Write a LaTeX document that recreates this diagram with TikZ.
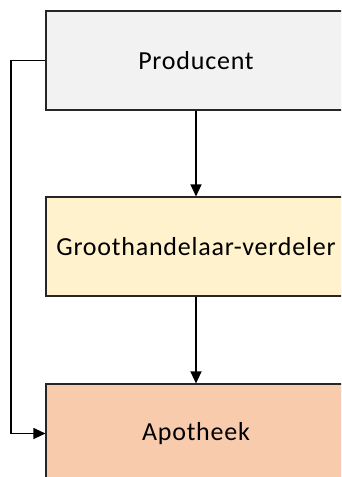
\documentclass[tikz,border=0pt]{standalone}
\usepackage{fontspec}
\setmainfont[LetterSpace=3]{Carlito}
\usetikzlibrary{arrows.meta}
\definecolor{prodfill}{HTML}{F2F2F2}
\definecolor{groofill}{HTML}{FFF2CC}
\definecolor{apofill}{HTML}{F8CBAD}
\definecolor{edge}{HTML}{262626}
\tikzset{
  stage/.style={draw=edge, line width=1.1pt, rectangle, minimum width=300pt,
    minimum height=99pt, inner sep=0pt, font=\fontsize{26}{31}\selectfont},
  flow/.style={draw=black, line width=1.1pt, -{Triangle[length=12pt,width=11pt]}}
}
\begin{document}
\begin{tikzpicture}[x=1pt,y=-1pt]
  \useasboundingbox (0,0) rectangle (341,477);
  \clip (0,0) rectangle (341,477);
  \node[stage, fill=prodfill] (prod) at (196,60.5) {Producent};
  \node[stage, fill=groofill] (groo) at (196,246.5) {Groothandelaar-verdeler};
  \node[stage, fill=apofill] (apo) at (196,433.5) {Apotheek};
  \draw[flow] (prod.south) -- (groo.north);
  \draw[flow] (groo.south) -- (apo.north);
  \draw[flow] (prod.west) -- ++(-34.5,0) |- (apo.west);
\end{tikzpicture}
\end{document}
